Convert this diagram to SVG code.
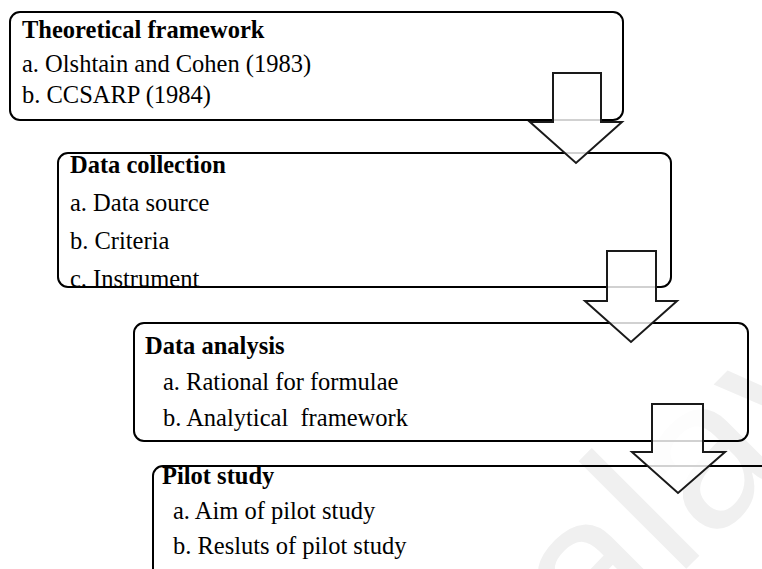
<svg xmlns="http://www.w3.org/2000/svg" width="762" height="569" viewBox="0 0 762 569">
<style>
.box{fill:none;stroke:#000;stroke-width:2}
.arr{fill:#fff;fill-opacity:0.82;stroke:#1a1a1a;stroke-width:2;stroke-linejoin:miter}
text{font-family:"Liberation Serif","Times New Roman",serif;font-size:24.5px;fill:#000}
.t{font-weight:bold}
.wm{font-family:"Liberation Sans",Arial,sans-serif;font-size:210px;fill:#f0f0f0}
</style>
<rect width="762" height="569" fill="#fff"/>
<g id="watermark" transform="translate(470,785) rotate(-45)"><text class="wm" x="0" y="0">Malaya</text></g>
<g id="n1">
<rect class="box" x="10" y="12" width="613" height="108" rx="10"/>
<text class="t" x="22" y="37.5">Theoretical framework</text>
<text x="22" y="72">a. Olshtain and Cohen (1983)</text>
<text x="22" y="103">b. CCSARP (1984)</text>
</g>
<g id="n2">
<rect class="box" x="58" y="153" width="613" height="134" rx="10"/>
<text class="t" x="70" y="172.5">Data collection</text>
<text x="70" y="210.5">a. Data source</text>
<text x="70" y="248.5">b. Criteria</text>
<text x="70" y="286.5">c. Instrument</text>
</g>
<g id="n3">
<rect class="box" x="134" y="323" width="614" height="118" rx="10"/>
<text class="t" x="145" y="353.5">Data analysis</text>
<text x="163" y="390">a. Rational for formulae</text>
<text x="163" y="425.5" xml:space="preserve">b. Analytical  framework</text>
</g>
<g id="n4">
<rect class="box" x="153" y="466" width="700" height="200" rx="10"/>
<text class="t" x="162" y="483.5">Pilot study</text>
<text x="173" y="518.5">a. Aim of pilot study</text>
<text x="173" y="553.5">b. Resluts of pilot study</text>
</g>
<g id="connectors">
<polygon class="arr" points="553,73 601,73 601,122 622,122 576,163 530,122 553,122"/>
<polygon class="arr" points="607,251 656,251 656,301 677,301 631,342 585,301 607,301"/>
<polygon class="arr" points="652,404 703,404 703,452 725,452 678,493 632,452 652,452"/>
</g>
</svg>
